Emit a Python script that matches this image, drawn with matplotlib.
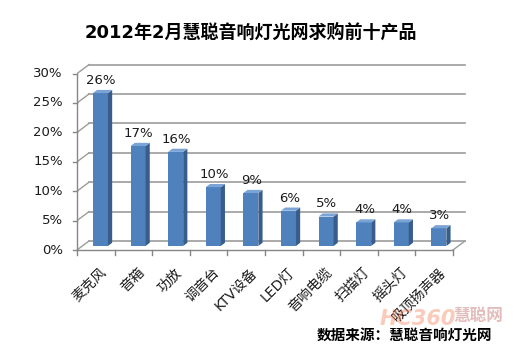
import matplotlib
matplotlib.use("Agg")
import matplotlib.pyplot as plt
from matplotlib.patches import Polygon

plt.rcParams['font.family'] = ['DejaVu Sans', 'Noto Sans CJK SC']

# data
categories = ['麦克风', '音箱', '功放', '调音台', 'KTV设备', 'LED灯',
              '音响电缆', '扫描灯', '摇头灯', '吸顶扬声器']
shares = [26, 17, 16, 10, 9, 6, 5, 4, 4, 3]
yticks = [0, 5, 10, 15, 20, 25, 30]
title = '2012年2月慧聪音响灯光网求购前十产品'
source = '数据来源：慧聪音响灯光网'

# pixel geometry of the fake 3D box
W, H, DPI = 515, 350, 100
px_x = 37.6      # pixels per category
px_y = 5.88      # pixels per percent
dxu = 12 / px_x  # depth offset in x units
dyu = 9 / px_y   # depth offset in percent units
ff, fb = 0.45, 0.8   # bar front / back depth fraction
bw = 0.4

front = '#4f81bd'
side = '#385d8a'
top = '#7aa3d6'
grid = '#9c9c9c'
axc = '#868686'

fig = plt.figure(figsize=(W / DPI, H / DPI), dpi=DPI)
left, bottom = 77, 100
aw, ah = 420, 220
ax = fig.add_axes([left / W, bottom / H, aw / W, ah / H])
ax.set_xlim(0, aw / px_x)
ax.set_ylim(0, ah / px_y)
ax.axis('off')

n = len(categories)

# back wall and left wall gridlines
for y in yticks:
    ax.plot([dxu, n + dxu], [y + dyu, y + dyu], color=grid, lw=1.2, zorder=1)
    ax.plot([0, dxu], [y, y + dyu], color=grid, lw=1.0, zorder=1)
# floor right edge
ax.plot([n, n + dxu], [0, dyu], color=grid, lw=1.0, zorder=1)

# bars
for i, v in enumerate(shares):
    xl = i + 0.28
    x0 = xl + ff * dxu
    b0 = ff * dyu
    ax.bar(x0, v, bottom=b0, width=bw, align='edge', color=front,
           edgecolor='none', zorder=3)
    sx = [x0 + bw, xl + bw + fb * dxu, xl + bw + fb * dxu, x0 + bw]
    sy = [b0, fb * dyu, v + fb * dyu, v + b0]
    ax.add_patch(Polygon(list(zip(sx, sy)), closed=True, color=side, lw=0, zorder=3))
    tx = [x0, x0 + bw, xl + bw + fb * dxu, xl + fb * dxu]
    ty = [v + b0, v + b0, v + fb * dyu, v + fb * dyu]
    ax.add_patch(Polygon(list(zip(tx, ty)), closed=True, color=top, lw=0, zorder=3))
    ax.text(x0 + bw / 2 + 0.02, v + fb * dyu + 0.5, f'{v}%', ha='center',
            va='bottom', fontsize=9.5, color='#1a1a1a', zorder=4)

# front axes
ax.plot([0, 0], [0, 30], color=axc, lw=1.0, zorder=2, clip_on=False)
ax.plot([0, n], [0, 0], color=axc, lw=1.0, zorder=2, clip_on=False)
for y in yticks:
    ax.plot([-4 / px_x, 0], [y, y], color=axc, lw=1.0, clip_on=False)
    ax.text(-0.38, y, f'{y}%', ha='right', va='center', fontsize=9.5,
            color='#1a1a1a')
for i in range(n + 1):
    ax.plot([i, i], [0, -5 / px_y], color=axc, lw=1.0, clip_on=False)

for i, c in enumerate(categories):
    ax.text(i + 0.6, -2.6, c, rotation=45, rotation_mode='anchor',
            ha='right', va='top', fontsize=10, color='#1a1a1a')

fig.text(251 / W, 1 - 33 / H, title, ha='center', va='center',
         fontsize=13, fontweight='bold', color='black')

# faint watermark
fig.text(380 / W, 1 - 319 / H, 'HC360', ha='left', va='center', fontsize=15,
         fontweight='bold', style='italic', color='#f26b3a', alpha=0.35)
fig.text(453 / W, 1 - 316 / H, '慧聪网', ha='left', va='center', fontsize=12,
         fontweight='bold', color='#b04040', alpha=0.35)

fig.text(492 / W, 1 - 335 / H, source, ha='right', va='center', fontsize=10.5,
         fontweight='bold', color='black')

fig.savefig('out.png', dpi=DPI)
